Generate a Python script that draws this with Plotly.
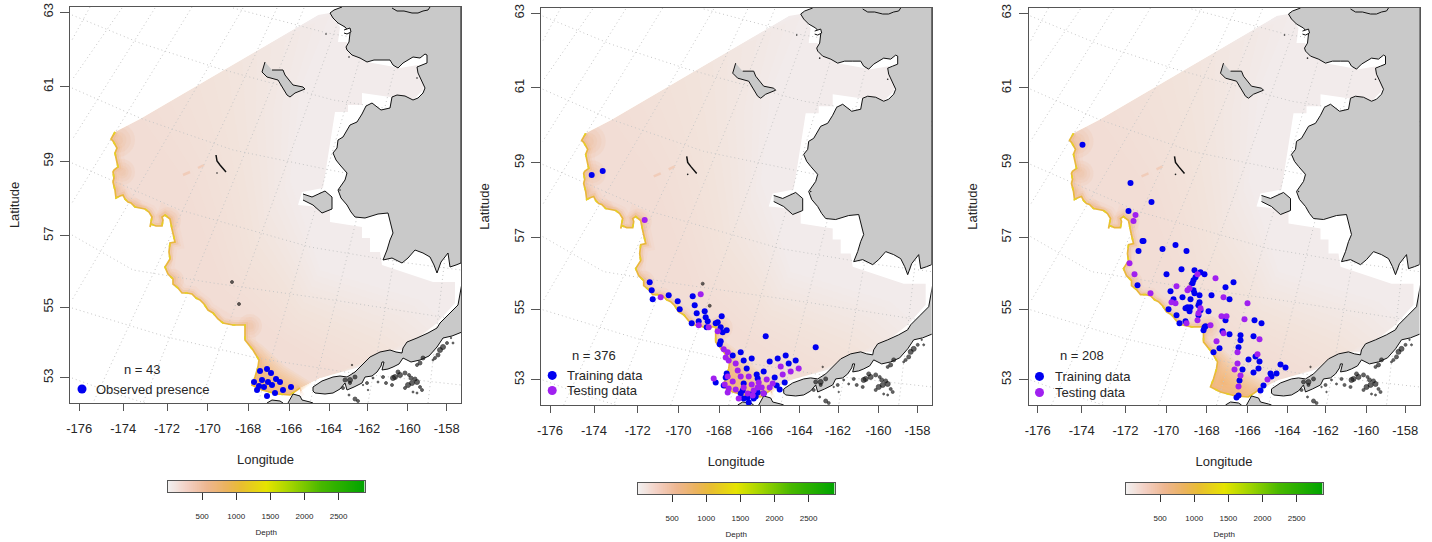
import numpy as np
import plotly.graph_objects as go

W, H = 1432, 542

# ---- data (map coordinates are projected map units, ticks sit where the projection puts them)
LON_LABELS = [-176, -174, -172, -170, -168, -166, -164, -162, -160, -158]
LON_POS = [79.3, 123.3, 167, 207.7, 248.3, 289.3, 329, 367.3, 407.7, 446.7]
LAT_LABELS = [53, 55, 57, 59, 61, 63]
LAT_POS = [377.7, 307.3, 235.7, 161.3, 86.7, 12.3]
DEPTH_TICKS = [500, 1000, 1500, 2000, 2500]

P1_PRES_X = [260, 267, 271, 262, 276, 280, 254, 268, 272, 259, 264, 257, 283, 275, 267, 291]
P1_PRES_Y = [371, 369, 373, 380, 379, 382, 382, 382, 385, 386, 387, 390, 390, 393, 396, 387]

P2_TRAIN_X = [122, 133, 180, 182, 183, 199, 208, 210, 223, 225, 227, 235, 236, 238, 252, 248, 246, 222, 229, 237, 251, 257, 253, 251, 250, 296, 346, 271, 263, 274, 282, 300, 308, 316, 326, 319, 277, 294, 287, 305, 257, 256, 246, 254, 274, 288, 307, 315, 310, 271, 274, 279, 284, 286, 294, 281, 278, 288, 273]
P2_TRAIN_Y = [175, 171, 282, 290, 299, 295, 301, 309, 296, 305, 313, 311, 317, 321, 316, 322, 323, 323, 321, 327, 327, 330, 332, 341, 344, 336, 347, 352, 355, 360, 358, 361, 358, 355, 360, 363, 368, 371, 374, 377, 373, 377, 382, 385, 383, 378, 385, 382, 389, 393, 398, 402, 398, 396, 393, 394, 397, 392, 390]
P2_TEST_X = [175, 231, 191, 229, 239, 248, 254, 258, 256, 259, 266, 268, 271, 279, 297, 311, 321, 329, 313, 244, 258, 263, 255, 259, 266, 258, 274, 282, 289, 292, 303, 300, 294, 284, 278, 269, 283, 288]
P2_TEST_Y = [220, 294, 297, 325, 327, 331, 349, 352, 357, 360, 363, 370, 376, 376, 379, 366, 371, 368, 374, 378, 376, 381, 384, 388, 389, 392, 387, 384, 382, 387, 383, 387, 393, 390, 393, 398, 395, 387]

P3_TRAIN_X = [125, 173, 194, 171, 185, 186, 181, 205, 218, 229, 224, 209, 237, 243, 247, 238, 236, 235, 276, 268, 180, 213, 236, 237, 242, 254, 225, 233, 216, 272, 242, 241, 230, 233, 228, 232, 243, 251, 241, 211, 219, 222, 228, 268, 297, 304, 247, 248, 246, 265, 272, 283, 296, 283, 281, 262, 256, 298, 291, 302, 285, 301, 296, 323, 328, 313, 314, 319, 282, 306, 303, 281, 279]
P3_TRAIN_Y = [145, 183, 202, 211, 241, 241, 251, 249, 245, 251, 269, 274, 270, 272, 274, 277, 280, 283, 282, 287, 285, 291, 290, 293, 295, 295, 297, 299, 299, 299, 302, 305, 307, 307, 308, 311, 310, 311, 315, 309, 315, 323, 321, 320, 320, 323, 327, 326, 330, 331, 334, 335, 336, 340, 347, 348, 352, 356, 359, 361, 369, 368, 372, 364, 367, 373, 376, 373, 380, 385, 390, 395, 397]
P3_TEST_X = [178, 176, 172, 177, 193, 219, 240, 258, 230, 232, 266, 290, 214, 218, 243, 241, 264, 269, 287, 240, 229, 253, 266, 259, 302, 280, 300, 280, 277, 283, 310, 281]
P3_TEST_Y = [215, 221, 263, 274, 293, 286, 274, 278, 290, 288, 297, 303, 302, 303, 308, 313, 316, 316, 319, 320, 323, 325, 333, 341, 339, 352, 354, 363, 369, 375, 379, 386]

EDGE_X = [115, 111, 113, 117, 115, 116, 118, 114, 113, 114, 113, 115, 116, 120, 123, 125, 128, 131, 135, 140, 145, 149, 152, 150, 151, 156, 162, 163, 162, 165, 170, 172, 173, 175, 170, 169, 170, 167, 165, 168, 173, 173, 178, 182, 187, 192, 196, 200, 204, 208, 213, 218, 223, 233, 245, 245, 249, 253, 259, 258, 255, 252, 262, 277, 290, 300]
EDGE_Y = [132, 139, 141, 148, 153, 158, 167, 170, 172, 178, 182, 190, 198, 196, 195, 199, 202, 203, 207, 208, 209, 212, 217, 227, 224, 226, 226, 220, 217, 215, 219, 229, 234, 242, 243, 252, 259, 264, 267, 274, 279, 284, 288, 293, 293, 294, 298, 300, 304, 310, 313, 319, 323, 325, 325, 340, 345, 350, 360, 367, 377, 385, 390, 394, 395, 388]

SEA_X = [318, 177, 140, 115] + EDGE_X[1:] + [320, 360, 390, 403, 437, 455, 455, 433, 382, 380, 370, 370, 362, 362, 330, 330, 298, 302, 323, 335, 348, 348, 362, 362, 397, 413, 423, 425, 418, 400, 367, 348, 347, 338, 340, 330]
SEA_Y = [15, 97, 119, 132] + EDGE_Y[1:] + [378, 367, 350, 350, 323, 303, 282, 282, 265, 252, 252, 238, 238, 227, 222, 208, 205, 192, 188, 112, 112, 105, 105, 93, 98, 100, 90, 80, 65, 68, 62, 52, 42, 42, 27, 13]

MAIN_X = [342, 334, 330, 333, 338, 345, 350, 349, 346, 347, 352, 360, 367, 374, 382, 390, 393, 398, 403, 409, 413, 420, 425, 427, 427, 422, 417, 418, 423, 425, 423, 418, 413, 405, 397, 392, 390, 381, 372, 366, 362, 357, 350, 343, 338, 337, 333, 336, 340, 347, 345, 338, 341, 347, 351, 355, 365, 378, 388, 390, 393, 390, 387, 383, 392, 402, 408, 415, 423, 430, 434, 437, 441, 448, 450, 456, 461, 461]
MAIN_Y = [7, 10, 13, 18, 23, 27, 33, 42, 47, 50, 55, 58, 62, 60, 60, 60, 65, 68, 63, 59, 57, 58, 54, 55, 63, 65, 67, 73, 83, 88, 93, 98, 100, 96, 95, 97, 108, 110, 103, 106, 114, 122, 125, 137, 140, 148, 153, 160, 165, 173, 180, 190, 198, 205, 212, 217, 218, 214, 213, 220, 233, 240, 250, 260, 258, 263, 258, 250, 253, 257, 265, 273, 262, 253, 267, 265, 263, 7]

PEN_X = [462, 460, 458, 449, 440, 437, 428, 417, 407, 403, 402, 396, 390, 380, 370, 366, 362, 355, 347, 340, 333, 322, 313, 313, 315, 325, 333, 340, 345, 347, 354, 362, 365, 372, 377, 381, 382, 384, 382, 388, 393, 399, 403, 411, 420, 429, 437, 440, 443, 452, 462]
PEN_Y = [283, 296, 305, 314, 323, 328, 333, 338, 342, 348, 353, 352, 350, 352, 357, 361, 365, 372, 377, 376, 377, 381, 387, 391, 393, 394, 393, 389, 383, 390, 387, 383, 377, 376, 372, 366, 362, 362, 370, 369, 367, 364, 358, 362, 360, 356, 347, 342, 338, 336, 332]

LAWRENCE_X = [265, 262, 267, 278, 287, 290, 295, 305, 303, 293, 285, 283, 272]
LAWRENCE_Y = [62, 72, 77, 80, 95, 97, 93, 89, 87, 85, 75, 70, 70]
NUNIVAK_X = [303, 312, 325, 332, 332, 322, 313, 303]
NUNIVAK_Y = [194, 197, 191, 197, 209, 213, 205, 200]
UNIMAK_X = [267, 272, 280, 283]
UNIMAK_Y = [403, 400, 401, 403]
UNALASKA_X = [288, 293, 300, 302, 310, 313]
UNALASKA_Y = [403, 394, 396, 400, 402, 403]
LAGOON_X = [344, 350, 351, 347, 344]
LAGOON_Y = [30, 28, 32, 34, 33]
INLAND_X = [392, 397, 404, 412, 418, 423, 428, 430]
INLAND_Y = [8, 11, 11, 13, 13, 11, 10, 7]

MATTHEW_X = [216, 217, 220, 223, 226]
MATTHEW_Y = [155, 161, 165, 168, 172]
SPECK_X = [412, 408, 417, 420, 422, 405, 400, 395, 405, 398, 393, 373, 367, 345, 350, 355, 343, 363, 440, 443, 447, 438, 435, 423, 420, 417, 453, 451, 433, 355, 358, 417, 413, 383, 352, 350, 368, 349, 232, 239, 411, 409, 415, 378, 386, 392]
SPECK_Y = [383, 385, 382, 387, 390, 388, 375, 377, 373, 372, 378, 378, 383, 380, 380, 377, 388, 385, 350, 347, 343, 355, 358, 358, 363, 365, 343, 338, 360, 399, 401, 393, 392, 377, 365, 383, 390, 395, 282, 304, 378, 375, 379, 382, 383, 385]
SPECK_S = [5, 5, 5, 3, 3, 3, 5, 5, 4, 4, 5, 2, 3, 4, 5, 4, 3, 1.5, 5, 5, 3, 4, 3, 4, 4, 3, 2, 1.5, 2, 4, 3, 2, 2, 3, 1.5, 3, 1.5, 2, 3, 3, 4, 3, 4, 2, 3, 3]
TINY_X = [326, 349, 417, 217, 340]
TINY_Y = [34, 57, 78, 173, 190]

GRID_LINES = [
    ([90, 72], [7, 40]), ([122, 72], [8, 80]), ([155, 72], [8, 140]), ([192, 72], [7, 203]),
    ([243, 72], [8, 300]), ([277, 93], [8, 403]), ([304, 143], [8, 403]), ([343, 200], [8, 403]),
    ([375, 258], [8, 403]), ([410, 310], [8, 403]), ([440, 368], [8, 403]), ([461, 428], [120, 403]),
    ([72, 140, 217, 333, 461], [15, 43, 68, 100, 120]), ([233, 327, 430], [8, 33, 50]),
    ([72, 140, 233, 330, 461], [88, 118, 150, 170, 195]), ([72, 180, 310, 400, 461], [163, 210, 247, 262, 270]),
    ([72, 133, 213, 333, 461], [235, 270, 283, 300, 320]), ([72, 167, 257, 345, 461], [308, 337, 358, 372, 385]),
    ([72, 110, 145], [378, 392, 403]),
]

PINK_OUT_X = [330, 300, 290, 320, 420, 445, 403, 390, 360, 320, 300, 252, 70, 70]
PINK_OUT_Y = [15, 90, 180, 270, 300, 323, 350, 350, 367, 378, 388, 400, 403, 100]
PINK_IN_X = [140, 185, 225, 285, 335, 345, 340, 335, 330, 320, 300, 252, 70, 70]
PINK_IN_Y = [115, 180, 290, 340, 370, 371, 372, 373, 375, 378, 388, 400, 403, 100]
SOUTH_OUT_X = [240, 262, 285, 312, 303, 290, 250, 240]
SOUTH_OUT_Y = [330, 345, 366, 383, 390, 398, 398, 370]
SOUTH_IN_X = [254, 262, 268, 280, 291, 283, 270, 254]
SOUTH_IN_Y = [387, 377, 385, 391, 394, 396, 396, 390]

GLOW_X = [118, 122, 168, 250, 173, 117, 135, 140]
GLOW_Y = [140, 172, 220, 326, 280, 190, 205, 210]
GLOW_R = [17, 13, 13, 12, 11, 8, 7, 6]
STREAK_X = [[183, 190], [198, 204]]
STREAK_Y = [[175, 172], [168, 165]]

DEPTH_CS = [[0, "#f2f0f0"], [0.1, "#f3cfc2"], [0.2, "#eeb68f"], [0.3, "#ebb35c"], [0.37, "#e8bd32"],
            [0.5, "#e6e400"], [0.63, "#a0d400"], [0.78, "#48b800"], [1, "#00a400"]]
DEPTH_MAX = 2880

PANELS = [
    dict(left=70, top=7, bottom=403),
    dict(left=540.7, top=8, bottom=405),
    dict(left=1028.5, top=8, bottom=405),
]
MAP_W = 391
CB = [dict(left=168, top=481), dict(left=638, top=483), dict(left=1126, top=483)]

BLUE, PURPLE = "#0000f0", "#a020f0"
TXT = "#262626"
FONT = "Liberation Sans, Arial, sans-serif"

fig = go.Figure()
layout = dict(width=W, height=H, margin=dict(l=0, r=0, t=0, b=0, autoexpand=False), paper_bgcolor="white", plot_bgcolor="white",
              showlegend=False, font=dict(family=FONT, color=TXT, size=13))
annots = []


def nested(ax, ay, ox, oy, ix, iy, n, color):
    ox, oy, ix, iy = map(np.asarray, (ox, oy, ix, iy))
    for t in np.linspace(0, 1, n):
        fig.add_trace(go.Scatter(x=ox + (ix - ox) * t, y=oy + (iy - oy) * t, mode="lines", fill="toself", fillcolor=color,
                                 line=dict(width=0), xaxis=ax, yaxis=ay, hoverinfo="skip"))


def add_map(ax, ay):
    kw = dict(xaxis=ax, yaxis=ay, hoverinfo="skip")
    fig.add_trace(go.Scatter(x=SEA_X, y=SEA_Y, mode="lines", fill="toself", fillcolor="#f2ebeb", line=dict(width=0), **kw))
    nested(ax, ay, PINK_OUT_X, PINK_OUT_Y, PINK_IN_X, PINK_IN_Y, 14, "rgba(250,202,192,0.026)")
    nested(ax, ay, SOUTH_OUT_X, SOUTH_OUT_Y, SOUTH_IN_X, SOUTH_IN_Y, 14, "rgba(238,170,95,0.085)")
    for f in (1.0, 0.75, 0.5, 0.3):
        fig.add_trace(go.Scatter(x=GLOW_X, y=GLOW_Y, mode="markers",
                                 marker=dict(size=[r * 2 * f for r in GLOW_R], color="rgba(240,175,130,0.16)", line=dict(width=0)), **kw))
    for lw, c in [(16, "rgba(245,200,170,0.14)"), (10, "rgba(242,190,150,0.20)"), (6, "rgba(240,178,120,0.30)")]:
        fig.add_trace(go.Scatter(x=EDGE_X, y=EDGE_Y, mode="lines", line=dict(width=lw, color=c), **kw))
    for sx, sy in zip(STREAK_X, STREAK_Y):
        fig.add_trace(go.Scatter(x=sx, y=sy, mode="lines", line=dict(width=2.5, color="rgba(240,175,140,0.38)"), **kw))
    # everything beyond the sampled shelf is blank
    mask_x = [318, 177, 140, 115] + EDGE_X[1:] + [300, 70, 70, 318]
    mask_y = [15, 97, 119, 132] + EDGE_Y[1:] + [404, 404, 6, 6]
    fig.add_trace(go.Scatter(x=mask_x, y=mask_y, mode="lines", fill="toself", fillcolor="white", line=dict(width=0), **kw))
    for gx, gy in GRID_LINES:
        fig.add_trace(go.Scatter(x=gx, y=gy, mode="lines", line=dict(width=1, color="#c6c6c6", dash="1px 3px"), **kw))
    fig.add_trace(go.Scatter(x=EDGE_X, y=EDGE_Y, mode="lines", line=dict(width=1.7, color="#e9b83c"), **kw))
    fig.add_trace(go.Scatter(x=EDGE_X, y=EDGE_Y, mode="lines", line=dict(width=1.7, color="#e6d224", dash="3px 9px"), **kw))
    for lx, ly in [(MAIN_X, MAIN_Y), (PEN_X, PEN_Y), (LAWRENCE_X, LAWRENCE_Y), (NUNIVAK_X, NUNIVAK_Y), (UNIMAK_X, UNIMAK_Y), (UNALASKA_X, UNALASKA_Y)]:
        fig.add_trace(go.Scatter(x=lx, y=ly, mode="lines", fill="toself", fillcolor="#c9c9c9", line=dict(width=1, color="#111111"), **kw))
    fig.add_trace(go.Scatter(x=LAGOON_X, y=LAGOON_Y, mode="lines", fill="toself", fillcolor="white", line=dict(width=1, color="#111111"), **kw))
    fig.add_trace(go.Scatter(x=INLAND_X, y=INLAND_Y, mode="lines", line=dict(width=1, color="#111111"), **kw))
    fig.add_trace(go.Scatter(x=MATTHEW_X, y=MATTHEW_Y, mode="lines", line=dict(width=1.5, color="#111111"), **kw))
    fig.add_trace(go.Scatter(x=SPECK_X, y=SPECK_Y, mode="markers", marker=dict(size=SPECK_S, color="#222222", line=dict(width=0.8, color="#000000")), **kw))
    fig.add_trace(go.Scatter(x=TINY_X, y=TINY_Y, mode="markers", marker=dict(size=1.6, color="#222222"), **kw))


def add_pts(ax, ay, x, y, color):
    fig.add_trace(go.Scatter(x=x, y=y, mode="markers", xaxis=ax, yaxis=ay, marker=dict(size=6, color=color), hoverinfo="skip"))


def legend_item(p, key_x, text_x, y, label, color):
    fig.add_trace(go.Scatter(x=[key_x], y=[y], mode="markers", xaxis="x%d" % (p + 1), yaxis="y%d" % (p + 1),
                             marker=dict(size=9, color=color), hoverinfo="skip"))
    annots.append(dict(x=text_x, y=y, xref="x%d" % (p + 1), yref="y%d" % (p + 1), text=label, showarrow=False,
                       xanchor="left", yanchor="middle", font=dict(size=13, family=FONT, color=TXT)))


for i, p in enumerate(PANELS):
    n = i + 1
    layout["xaxis" + str(n)] = dict(
        domain=[p["left"] / W, (p["left"] + MAP_W) / W], range=[70, 461], anchor="y" + str(n),
        tickmode="array", tickvals=LON_POS, ticktext=[str(v) for v in LON_LABELS], ticks="outside", ticklen=7,
        tickcolor="#555555", tickwidth=1, showline=True, mirror=True, linecolor="#555555", linewidth=1, showgrid=False,
        zeroline=False, tickfont=dict(size=13, family=FONT, color=TXT), ticklabelstandoff=6,
        title=dict(text="Longitude", standoff=20, font=dict(size=13, family=FONT, color=TXT)))
    layout["yaxis" + str(n)] = dict(
        domain=[1 - p["bottom"] / H, 1 - p["top"] / H], range=[403, 7], anchor="x" + str(n),
        tickmode="array", tickvals=LAT_POS, ticktext=[str(v) for v in LAT_LABELS], ticks="outside", ticklen=9,
        tickcolor="#555555", tickwidth=1, showline=True, mirror=True, linecolor="#555555", linewidth=1, showgrid=False,
        zeroline=False, tickangle=-90, tickfont=dict(size=13, family=FONT, color=TXT), ticklabelstandoff=2,
        title=dict(text="Latitude", standoff=18, font=dict(size=13, family=FONT, color=TXT)))
    add_map("x" + str(n), "y" + str(n))

    c = CB[i]
    cn = n + 3
    layout["xaxis" + str(cn)] = dict(
        domain=[c["left"] / W, (c["left"] + 196.5) / W], range=[0, DEPTH_MAX], anchor="y" + str(cn),
        tickmode="array", tickvals=DEPTH_TICKS, ticktext=[str(v) for v in DEPTH_TICKS], ticks="outside", ticklen=7,
        tickcolor="#333333", showline=True, mirror=True, linecolor="#555555", showgrid=False, zeroline=False,
        tickfont=dict(size=8, family=FONT, color=TXT), ticklabelstandoff=9,
        title=dict(text="Depth", standoff=9, font=dict(size=8, family=FONT, color=TXT)))
    layout["yaxis" + str(cn)] = dict(
        domain=[1 - (c["top"] + 11) / H, 1 - c["top"] / H], range=[0, 1], anchor="x" + str(cn),
        showticklabels=False, ticks="", showline=True, mirror=True, linecolor="#555555", showgrid=False, zeroline=False)
    xs = np.linspace(0, DEPTH_MAX, 300)
    fig.add_trace(go.Heatmap(x=xs, y=[0, 1], z=[xs, xs], xaxis="x" + str(cn), yaxis="y" + str(cn),
                             colorscale=DEPTH_CS, zmin=0, zmax=DEPTH_MAX, showscale=False, hoverinfo="skip"))

add_pts("x1", "y1", P1_PRES_X, P1_PRES_Y, BLUE)
add_pts("x2", "y2", [v - 1 for v in P2_TRAIN_X], [v - 1.5 for v in P2_TRAIN_Y], BLUE)
add_pts("x2", "y2", [v - 1 for v in P2_TEST_X], [v - 1.5 for v in P2_TEST_Y], PURPLE)
add_pts("x3", "y3", [v - 1 for v in P3_TRAIN_X], [v - 1.5 for v in P3_TRAIN_Y], BLUE)
add_pts("x3", "y3", [v - 1 for v in P3_TEST_X], [v - 1.5 for v in P3_TEST_Y], PURPLE)

legend_item(0, 82, 94, 389, "Observed presence", BLUE)
legend_item(1, 81.5, 94.5, 373.5, "Training data", BLUE)
legend_item(1, 81.5, 94.5, 388.5, "Testing data", PURPLE)
legend_item(2, 81, 94, 374.5, "Training data", BLUE)
legend_item(2, 81, 94, 390.5, "Testing data", PURPLE)
for i, (tx, ty, t) in enumerate([(142, 369, "n = 43"), (123, 353.5, "n = 376"), (123, 353.5, "n = 208")]):
    annots.append(dict(x=tx, y=ty, xref="x%d" % (i + 1), yref="y%d" % (i + 1), text=t, showarrow=False,
                       font=dict(size=13, family=FONT, color=TXT)))

layout["annotations"] = annots
fig.update_layout(**layout)
fig.write_html("out.html", config=dict(displayModeBar=False), post_script="document.body.style.margin='0';")
